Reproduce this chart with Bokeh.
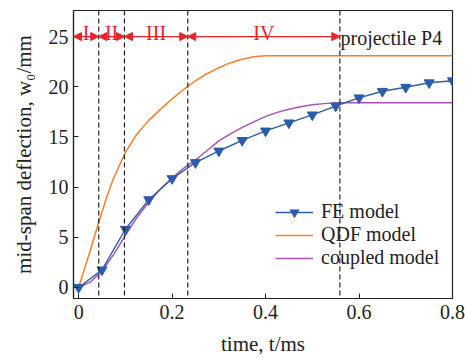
from bokeh.plotting import figure
from bokeh.models import (Range1d, FixedTicker, CustomJSTickFormatter, Span, Arrow,
                          NormalHead, Label, Legend, LegendItem)
from bokeh.embed import file_html
from bokeh.resources import INLINE

# ---- data -------------------------------------------------------------
# FE model (markers every 0.05 ms)
t_fe = [0, 0.05, 0.1, 0.15, 0.2, 0.25, 0.3, 0.35, 0.4, 0.45, 0.5, 0.55, 0.6, 0.65, 0.7, 0.75, 0.8]
w_fe = [0, 1.75, 5.8, 8.75, 10.85, 12.45, 13.6, 14.65, 15.6, 16.4, 17.2, 18.08, 18.9, 19.55, 19.95, 20.4, 20.6]

# QDF model
t_qdf = [0, 0.025, 0.043, 0.06, 0.075, 0.1, 0.125, 0.15, 0.175, 0.2, 0.225, 0.25, 0.275, 0.3,
         0.325, 0.35, 0.375, 0.4, 0.8]
w_qdf = [0, 3.7, 6.5, 9.0, 10.9, 13.45, 15.3, 16.65, 17.75, 18.8, 19.75, 20.6, 21.3, 21.9,
         22.4, 22.75, 23.0, 23.1, 23.1]

# coupled model
t_cpl = [0, 0.025, 0.05, 0.075, 0.1, 0.125, 0.15, 0.175, 0.2, 0.225, 0.25, 0.275, 0.3, 0.325,
         0.35, 0.375, 0.4, 0.425, 0.45, 0.475, 0.5, 0.525, 0.55, 0.575, 0.8]
w_cpl = [0, 0.55, 1.6, 3.3, 5.2, 7.0, 8.5, 9.8, 10.9, 11.9, 12.7, 13.65, 14.6, 15.3,
         15.95, 16.5, 17.05, 17.45, 17.75, 18.0, 18.2, 18.32, 18.4, 18.4, 18.4]

# response phases (boundaries in ms) and their labels
phase_bounds = [0.043, 0.098, 0.2335, 0.559]
phase_names = ["I", "II", "III", "IV"]
phase_level = 25

x_ticks = [0, 0.2, 0.4, 0.6, 0.8]
y_ticks = [0, 5, 10, 15, 20, 25]

# ---- styling ----------------------------------------------------------
FONT = "Liberation Serif"
INK = "#222222"
RED = "#e8232a"
BLUE = "#2b5bab"
ORANGE = "#f47f2c"
PURPLE = "#a653b3"

X0, X1 = -0.011, 0.8
Y0, Y1 = -1.1, 27.6
W, H = 465, 358
BL, BR, BT, BB = 73, 13, 10, 60
FW, FH = W - BL - BR, H - BT - BB


def sx(px):
    """canvas pixel column -> data x"""
    return X0 + (px - BL) / FW * (X1 - X0)


def sy(py):
    """canvas pixel row -> data y"""
    return Y0 + (BT + FH - py) / FH * (Y1 - Y0)


p = figure(width=W, height=H, x_range=Range1d(X0, X1), y_range=Range1d(Y0, Y1),
           output_backend="svg", toolbar_location=None,
           min_border_left=BL, min_border_right=BR, min_border_top=BT, min_border_bottom=BB)
p.xgrid.visible = False
p.ygrid.visible = False
p.outline_line_color = INK
p.outline_line_width = 1.2
p.background_fill_color = "white"
p.border_fill_color = "white"

for ax in (p.xaxis[0], p.yaxis[0]):
    ax.axis_line_color = INK
    ax.axis_line_width = 1.2
    ax.major_tick_line_color = INK
    ax.major_tick_in = 5
    ax.major_tick_out = 0
    ax.minor_tick_line_color = None
    ax.major_label_text_font = FONT
    ax.major_label_text_font_size = "20px"
    ax.major_label_text_color = INK
    ax.axis_label_text_font = FONT
    ax.axis_label_text_font_size = "21px"
    ax.axis_label_text_font_style = "normal"
    ax.axis_label_text_color = INK

p.xaxis.ticker = FixedTicker(ticks=x_ticks)
p.xaxis.formatter = CustomJSTickFormatter(code="return String(Math.round(tick * 10) / 10);")
p.yaxis.ticker = FixedTicker(ticks=y_ticks)
p.xaxis.major_label_standoff = 6
p.yaxis.major_label_standoff = 5

p.xaxis.axis_label = "time, t/ms"
p.yaxis.axis_label = "mid-span deflection, w\u2080/mm"
p.xaxis.axis_label_standoff = 10
p.yaxis.axis_label_standoff = 10

# ---- phase markers ----------------------------------------------------
for b in phase_bounds:
    p.add_layout(Span(location=b, dimension="height", line_color=INK,
                      line_width=1.2, line_dash="5 3"))

starts = [X0] + phase_bounds[:-1]
for x_a, x_b, name in zip(starts, phase_bounds, phase_names):
    p.add_layout(Arrow(x_start=x_a, y_start=phase_level, x_end=x_b, y_end=phase_level,
                       line_color=RED, line_width=1.3,
                       start=NormalHead(size=8, fill_color=RED, line_color=RED, line_width=1),
                       end=NormalHead(size=8, fill_color=RED, line_color=RED, line_width=1)))
    p.add_layout(Label(x=(x_a + x_b) / 2, y=sy(32), text=name, text_align="center",
                       text_baseline="alphabetic", text_color=RED,
                       text_font=FONT, text_font_size="20px"))

p.add_layout(Label(x=sx(340), y=sy(37.5), text="projectile P4", text_align="left",
                   text_baseline="alphabetic", text_color=INK,
                   text_font=FONT, text_font_size="20px"))

# ---- curves -----------------------------------------------------------
r_qdf = p.line(t_qdf, w_qdf, line_color=ORANGE, line_width=1.5)
r_cpl = p.line(t_cpl, w_cpl, line_color=PURPLE, line_width=1.5)
r_fe_l = p.line(t_fe, w_fe, line_color=BLUE, line_width=1.4)
r_fe_m = p.scatter(t_fe, w_fe, marker="inverted_triangle", size=10,
                   fill_color=BLUE, line_color=BLUE)

legend = Legend(items=[LegendItem(label="FE model", renderers=[r_fe_l, r_fe_m]),
                       LegendItem(label="QDF model", renderers=[r_qdf]),
                       LegendItem(label="coupled model", renderers=[r_cpl])],
                location=(202, 29), border_line_color=None, background_fill_alpha=0,
                padding=0, margin=0, spacing=0, glyph_width=38, glyph_height=22,
                label_height=22, label_standoff=8, label_text_font=FONT,
                label_text_font_size="20px", label_text_color=INK)
p.add_layout(legend)

open("out.html", "w").write(file_html(p, INLINE))
